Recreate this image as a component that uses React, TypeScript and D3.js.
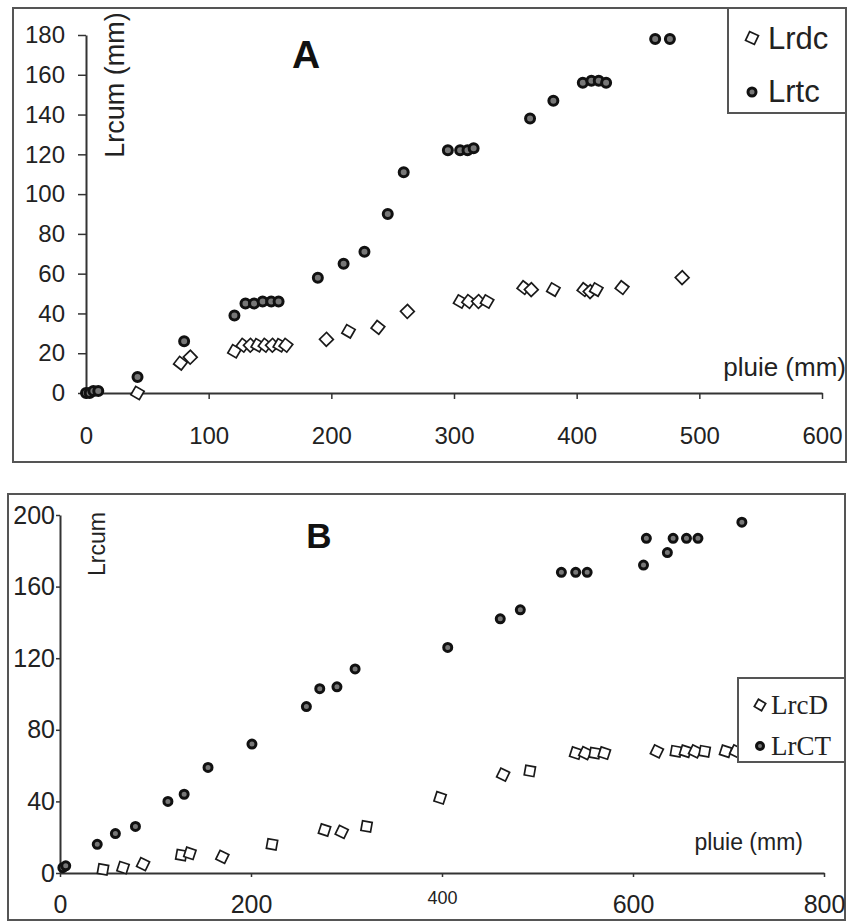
import * as d3 from "d3";
import { useEffect, useRef } from "react";

// Panel A : cumulated runoff (mm) vs rain (mm)
const rainA_dc = [42, 77, 85, 121, 128, 134, 140, 146, 152, 158, 163, 196, 214, 238, 262, 305, 312, 320, 327, 357, 363, 381, 406, 411, 416, 437, 486];
const lrdc = [0, 15, 18, 21, 24, 24, 24, 24, 24, 24, 24, 27, 31, 33, 41, 46, 46, 46, 46, 53, 52, 52, 52, 51, 52, 53, 58];
const rainA_tc = [0, 3, 6, 10, 42, 80, 121, 130, 137, 144, 151, 157, 189, 210, 227, 246, 259, 295, 305, 311, 316, 362, 381, 405, 412, 418, 424, 464, 476];
const lrtc = [0, 0, 1, 1, 8, 26, 39, 45, 45, 46, 46, 46, 58, 65, 71, 90, 111, 122, 122, 122, 123, 138, 147, 156, 157, 157, 156, 178, 178];
const ticksAx = [0, 100, 200, 300, 400, 500, 600];
const ticksAy = [0, 20, 40, 60, 80, 100, 120, 140, 160, 180];

// Panel B
const rainB_D = [45, 66, 87, 127, 136, 170, 222, 277, 295, 321, 398, 464, 492, 540, 550, 560, 570, 625, 645, 655, 665, 675, 697, 708];
const lrcD = [2, 3, 5, 10, 11, 9, 16, 24, 23, 26, 42, 55, 57, 67, 67, 67, 67, 68, 68, 68, 68, 68, 68, 68];
const rainB_CT = [3, 6, 39, 58, 79, 113, 130, 155, 201, 258, 272, 290, 309, 406, 461, 482, 525, 540, 552, 611, 614, 636, 642, 656, 668, 714];
const lrCT = [3, 4, 16, 22, 26, 40, 44, 59, 72, 93, 103, 104, 114, 126, 142, 147, 168, 168, 168, 172, 187, 179, 187, 187, 187, 196];
const ticksBx = [0, 200, 400, 600, 800];
const ticksBy = [0, 40, 80, 120, 160, 200];

const SANS = "Liberation Sans, Arial, sans-serif";
const SERIF = "Liberation Serif, Times New Roman, serif";

function App() {
    const ref = useRef(null);

    useEffect(() => {
        const svg = d3.select(ref.current);
        svg.selectAll("*").remove();

        const diamond = d3.symbol(d3.symbolSquare, 95)();

        const drawDiamonds = (g, xs, ys, x, y, rot = 30) => {
            g.append("g")
                .selectAll("path")
                .data(d3.zip(xs, ys))
                .join("path")
                .attr("d", diamond)
                .attr("transform", (d, i) => `translate(${x(d[0])},${y(d[1])}) rotate(${rot + (i % 3) * 8})`)
                .attr("fill", "white")
                .attr("stroke", "#1a1a1a")
                .attr("stroke-width", 1.7);
        };
        const drawCircles = (g, xs, ys, x, y, r) => {
            g.append("g")
                .selectAll("circle")
                .data(d3.zip(xs, ys))
                .join("circle")
                .attr("cx", d => x(d[0]))
                .attr("cy", d => y(d[1]))
                .attr("r", r)
                .attr("fill", "#777")
                .attr("stroke", "#111")
                .attr("stroke-width", 3);
        };
        const styleAxis = (g, font, size) => {
            g.select(".domain").attr("stroke", "#333").attr("stroke-width", 2);
            g.selectAll(".tick line").attr("stroke", "#333").attr("stroke-width", 1.5);
            g.selectAll(".tick text").attr("fill", "#222").style("font-family", font).style("font-size", size);
        };

        // ---------- panel A ----------
        const xA = d3.scaleLinear().domain([0, 600]).range([86, 822]);
        const yA = d3.scaleLinear().domain([0, 180]).range([393, 35]);

        svg.append("rect").attr("x", 13).attr("y", 8).attr("width", 833).attr("height", 454)
            .attr("fill", "white").attr("stroke", "#555").attr("stroke-width", 2);

        const axAx = svg.append("g").attr("transform", "translate(0,393)")
            .call(d3.axisBottom(xA).tickValues(ticksAx).tickSize(6).tickSizeOuter(0).tickPadding(28));
        styleAxis(axAx, SANS, "24px");
        const axAy = svg.append("g").attr("transform", "translate(86,0)")
            .call(d3.axisLeft(yA).tickValues(ticksAy).tickSize(8).tickSizeOuter(0).tickPadding(13));
        styleAxis(axAy, SANS, "24px");

        svg.append("text").attr("transform", "translate(124,85) rotate(-90)")
            .attr("text-anchor", "middle").style("font-family", SANS).style("font-size", "27px")
            .attr("fill", "#222").text("Lrcum (mm)");
        svg.append("text").attr("x", 306).attr("y", 68).attr("text-anchor", "middle")
            .style("font-family", SANS).style("font-size", "39px").style("font-weight", "bold")
            .attr("fill", "#111").text("A");
        svg.append("text").attr("x", 846).attr("y", 376).attr("text-anchor", "end")
            .style("font-family", SANS).style("font-size", "26px").attr("fill", "#222").text("pluie (mm)");

        drawDiamonds(svg, rainA_dc, lrdc, xA, yA);
        drawCircles(svg, rainA_tc, lrtc, xA, yA, 4.5);

        // legend A
        svg.append("rect").attr("x", 728).attr("y", 8).attr("width", 118).attr("height", 105)
            .attr("fill", "white").attr("stroke", "#555").attr("stroke-width", 2);
        svg.append("path").attr("d", diamond).attr("transform", "translate(752,38) rotate(25)")
            .attr("fill", "white").attr("stroke", "#1a1a1a").attr("stroke-width", 1.7);
        svg.append("circle").attr("cx", 752).attr("cy", 92).attr("r", 4).attr("fill", "#777")
            .attr("stroke", "#111").attr("stroke-width", 3);
        svg.append("text").attr("x", 768).attr("y", 49).style("font-family", SANS).style("font-size", "31px")
            .attr("fill", "#222").text("Lrdc");
        svg.append("text").attr("x", 768).attr("y", 102).style("font-family", SANS).style("font-size", "31px")
            .attr("fill", "#222").text("Lrtc");

        // ---------- panel B ----------
        const xB = d3.scaleLinear().domain([0, 800]).range([60, 824]);
        const yB = d3.scaleLinear().domain([0, 200]).range([873, 515]);

        svg.append("rect").attr("x", 8).attr("y", 494).attr("width", 837).attr("height", 426)
            .attr("fill", "white").attr("stroke", "#555").attr("stroke-width", 2);

        const axBx = svg.append("g").attr("transform", "translate(0,873)")
            .call(d3.axisBottom(xB).tickValues(ticksBx).tickSize(4).tickSizeOuter(0).tickPadding(18));
        styleAxis(axBx, SANS, "25px");
        axBx.selectAll(".tick text").filter(d => d === 400).style("font-size", "18px").attr("y", 18);
        const axBy = svg.append("g").attr("transform", "translate(60,0)")
            .call(d3.axisLeft(yB).tickValues(ticksBy).tickSize(4).tickSizeOuter(0).tickPadding(1));
        styleAxis(axBy, SANS, "25px");

        svg.append("text").attr("transform", "translate(105,544) rotate(-90)")
            .attr("text-anchor", "middle").style("font-family", SANS).style("font-size", "23px")
            .attr("fill", "#222").text("Lrcum");
        svg.append("text").attr("x", 319).attr("y", 548).attr("text-anchor", "middle")
            .style("font-family", SANS).style("font-size", "35px").style("font-weight", "bold")
            .attr("fill", "#111").text("B");
        svg.append("text").attr("x", 803).attr("y", 850).attr("text-anchor", "end")
            .style("font-family", SANS).style("font-size", "23px").attr("fill", "#222").text("pluie (mm)");

        drawDiamonds(svg, rainB_D, lrcD, xB, yB, 10);
        drawCircles(svg, rainB_CT, lrCT, xB, yB, 4);

        // legend B
        svg.append("rect").attr("x", 738).attr("y", 678).attr("width", 107).attr("height", 84)
            .attr("fill", "white").attr("stroke", "#555").attr("stroke-width", 2);
        svg.append("path").attr("d", d3.symbol(d3.symbolSquare, 70)()).attr("transform", "translate(760,705) rotate(30)")
            .attr("fill", "white").attr("stroke", "#1a1a1a").attr("stroke-width", 1.7);
        svg.append("circle").attr("cx", 760).attr("cy", 746).attr("r", 3.5).attr("fill", "#777")
            .attr("stroke", "#111").attr("stroke-width", 3);
        svg.append("text").attr("x", 771).attr("y", 714).style("font-family", SERIF).style("font-size", "27px")
            .attr("fill", "#222").text("LrcD");
        svg.append("text").attr("x", 771).attr("y", 755).style("font-family", SERIF).style("font-size", "27px")
            .attr("fill", "#222").text("LrCT");
    }, []);

    return (
        <svg ref={ref} width={851} height={922}
            style={{ position: "absolute", left: 0, top: 0, background: "white" }} />
    );
}

export default App;
